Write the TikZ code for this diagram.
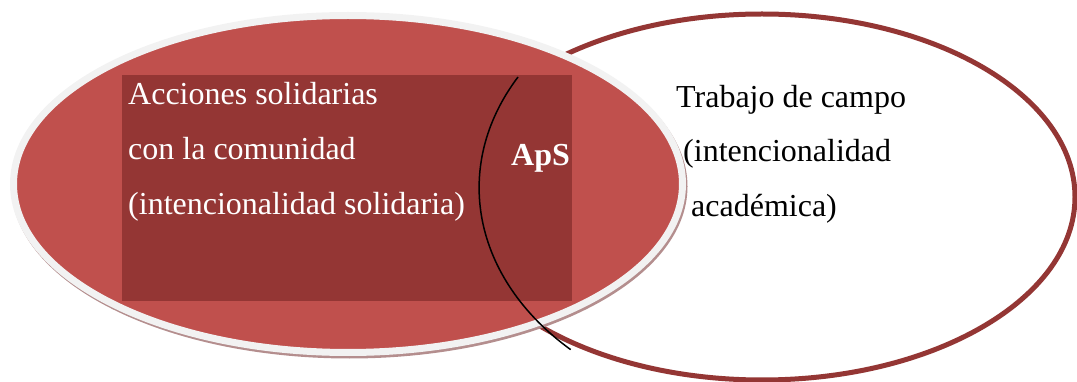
\documentclass[tikz,border=0pt]{standalone}
\usepackage{fontspec}
\setmainfont{Liberation Serif}
\definecolor{softred}{HTML}{C0504D}
\definecolor{deepred}{HTML}{943634}
\definecolor{rimgray}{HTML}{F2F2F2}
\definecolor{shadowrose}{HTML}{B48E8E}
\tikzset{
  rightring/.style={draw=deepred, line width=5pt, fill=white},
  leftshadow/.style={fill=shadowrose},
  leftdisc/.style={fill=softred, draw=rimgray, line width=7pt},
  innerbox/.style={fill=deepred},
  whitetext/.style={anchor=base west, inner sep=0pt, text=white, font=\fontsize{32}{32}\selectfont},
  blacktext/.style={anchor=base west, inner sep=0pt, text=black, font=\fontsize{32}{32}\selectfont},
  apslabel/.style={anchor=base west, inner sep=0pt, text=white, font=\fontsize{32}{32}\selectfont\bfseries},
}
\begin{document}
\begin{tikzpicture}[x=1pt, y=-1pt]
  \useasboundingbox (0,0) rectangle (1077,382);
  % right circle: field work
  \draw[rightring] (762,197) ellipse [x radius=313, y radius=183];
  % left circle: solidarity actions, with its soft shadow and light rim
  \fill[leftshadow] (349.5,186.5) ellipse [x radius=338, y radius=172];
  \draw[leftdisc] (348,184) ellipse [x radius=334.5, y radius=168.5];
  \fill[innerbox] (122,75) rectangle (572,301);
  % overlap boundary
  \coordinate (arcTop) at (518,77);
  \draw[black, line width=1.5pt] (arcTop) arc[start angle=209.5, end angle=134, x radius=300, y radius=225];
  % labels
  \node[whitetext] (acc1) at (128,105) {Acciones solidarias};
  \node[whitetext] (acc2) at (128,160) {con la comunidad};
  \node[whitetext] (acc3) at (128,215) {(intencionalidad solidaria)};
  \node[apslabel] (aps) at (511,166) {ApS};
  \node[blacktext] (tc1) at (676,108) {Trabajo de campo};
  \node[blacktext] (tc2) at (683,162) {(intencionalidad};
  \node[blacktext] (tc3) at (691,217) {académica)};
\end{tikzpicture}
\end{document}
